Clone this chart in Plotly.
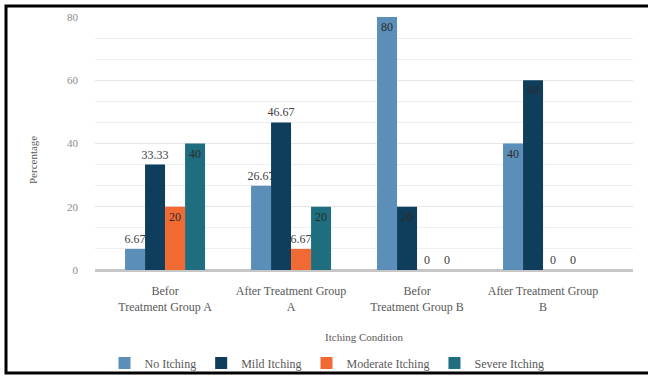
import plotly.graph_objects as go

# Itching condition by treatment stage (percent of patients)
categories = [
    "Befor<br>Treatment Group A",
    "After Treatment Group<br>A",
    "Befor<br>Treatment Group B",
    "After Treatment Group<br>B",
]
no_itching = [6.67, 26.67, 80, 40]
mild_itching = [33.33, 46.67, 20, 60]
moderate_itching = [20, 6.67, 0, 0]
severe_itching = [40, 20, 0, 0]

series = [
    ("No Itching", no_itching, "#5b8fb9"),
    ("Mild Itching", mild_itching, "#0f3d5c"),
    ("Moderate Itching", moderate_itching, "#f26a33"),
    ("Severe Itching", severe_itching, "#1f6e80"),
]

SERIF = "Liberation Serif, Times New Roman, serif"
TEXT_GREY = "#595959"

fig = go.Figure()
for name, vals, color in series:
    # round multiples of 20 sit inside the bar top, the rest above it
    positions = ["inside" if (v > 0 and v % 20 == 0) else "outside" for v in vals]
    fig.add_trace(go.Bar(
        name=name,
        x=categories,
        y=vals,
        marker=dict(color=color, line=dict(width=0)),
        text=[f"{v:g}" for v in vals],
        textposition=positions,
        insidetextanchor="end",
        textfont=dict(family=SERIF, size=12, color="#404040"),
        insidetextfont=dict(family=SERIF, size=12, color="#2b2b2b"),
        outsidetextfont=dict(family=SERIF, size=12, color="#404040"),
        cliponaxis=False,
    ))

# frame around the chart (open on the right side)
L, T, B, R = 95, 17, 270, 633
def px_x(p):
    return (p - L) / (R - L)
def px_y(p):
    return (B - p) / (B - T)

frame_path = (
    f"M {px_x(660)},{px_y(6)} L {px_x(6)},{px_y(6)} "
    f"L {px_x(6)},{px_y(373)} L {px_x(660)},{px_y(373)}"
)

fig.update_layout(
    width=648,
    height=376,
    margin=dict(l=L, r=648 - R, t=T, b=376 - B, autoexpand=False),
    paper_bgcolor="white",
    plot_bgcolor="white",
    barmode="group",
    bargap=0.365,
    bargroupgap=0,
    uniformtext=dict(minsize=12, mode="show"),
    font=dict(family=SERIF, size=12, color=TEXT_GREY),
    showlegend=True,
    legend=dict(
        orientation="h",
        x=px_x(327),
        xanchor="center",
        y=px_y(363),
        yanchor="middle",
        bgcolor="rgba(0,0,0,0)",
        font=dict(family=SERIF, size=12, color=TEXT_GREY),
        itemwidth=30,
    ),
    xaxis=dict(
        range=[-0.556, 3.714],
        automargin=False,
        showgrid=False,
        showline=False,
        ticks="",
        ticklabelstandoff=12,
        tickfont=dict(family=SERIF, size=12, color=TEXT_GREY),
        title=dict(text="Itching Condition", standoff=20,
                   font=dict(family=SERIF, size=11, color=TEXT_GREY)),
    ),
    yaxis=dict(
        range=[0, 80],
        automargin=False,
        tickvals=[0, 20, 40, 60, 80],
        showgrid=True,
        gridcolor="#e6e6e6",
        gridwidth=1,
        minor=dict(dtick=20 / 3, showgrid=True, gridcolor="#eeeeee", gridwidth=1),
        zeroline=True,
        zerolinecolor="#c6c6c6",
        zerolinewidth=3,
        showline=False,
        ticks="",
        ticklabelstandoff=16,
        tickfont=dict(family=SERIF, size=11, color="#8c8c8c"),
    ),
    annotations=[dict(
        text="Percentage",
        xref="paper", yref="paper",
        x=px_x(33), y=px_y(160),
        xanchor="center", yanchor="middle",
        textangle=-90,
        showarrow=False,
        font=dict(family=SERIF, size=11, color=TEXT_GREY),
    )],
    shapes=[dict(
        type="path",
        path=frame_path,
        xref="paper",
        yref="paper",
        line=dict(color="black", width=3),
        layer="above",
    )],
)

fig.write_html("out.html")
